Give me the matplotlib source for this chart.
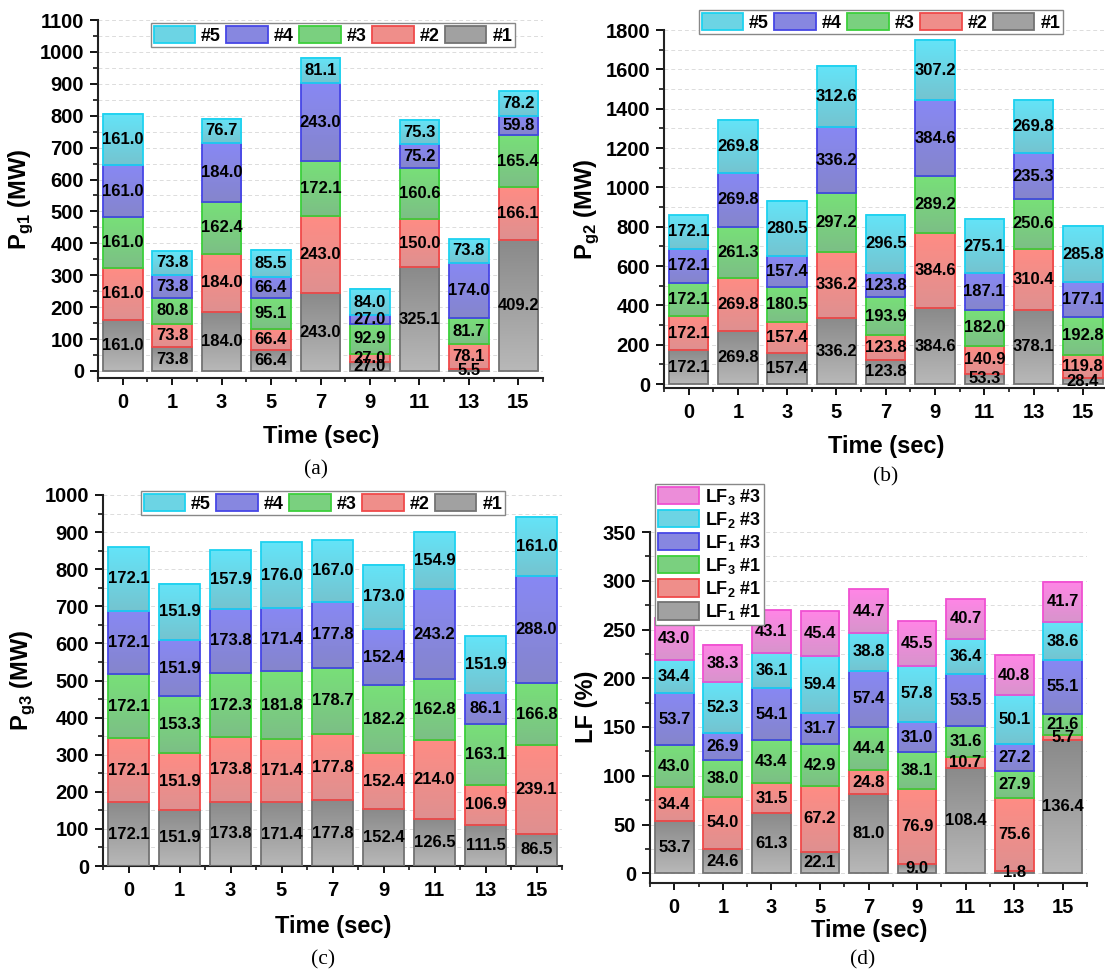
import numpy as np
import matplotlib
matplotlib.use('Agg')
import matplotlib.pyplot as plt
from matplotlib.patches import Patch
from matplotlib.colors import to_rgb

plt.rcParams['font.family'] = ['Liberation Sans', 'DejaVu Sans']
plt.rcParams['font.weight'] = 'bold'
plt.rcParams['mathtext.fontset'] = 'custom'
plt.rcParams['mathtext.rm'] = 'Liberation Sans'
plt.rcParams['mathtext.bf'] = 'Liberation Sans:bold'

# ---------------- data ----------------
times = ['0', '1', '3', '5', '7', '9', '11', '13', '15']

# Panel (a) Pg1 (MW), units #1..#5
pg1_u1 = [161.0, 73.8, 184.0, 66.4, 243.0, 27.0, 325.1, 5.5, 409.2]
pg1_u2 = [161.0, 73.8, 184.0, 66.4, 243.0, 27.0, 150.0, 78.1, 166.1]
pg1_u3 = [161.0, 80.8, 162.4, 95.1, 172.1, 92.9, 160.6, 81.7, 165.4]
pg1_u4 = [161.0, 73.8, 184.0, 66.4, 243.0, 27.0, 75.2, 174.0, 59.8]
pg1_u5 = [161.0, 73.8, 76.7, 85.5, 81.1, 84.0, 75.3, 73.8, 78.2]

# Panel (b) Pg2 (MW)
pg2_u1 = [172.1, 269.8, 157.4, 336.2, 123.8, 384.6, 53.3, 378.1, 28.4]
pg2_u2 = [172.1, 269.8, 157.4, 336.2, 123.8, 384.6, 140.9, 310.4, 119.8]
pg2_u3 = [172.1, 261.3, 180.5, 297.2, 193.9, 289.2, 182.0, 250.6, 192.8]
pg2_u4 = [172.1, 269.8, 157.4, 336.2, 123.8, 384.6, 187.1, 235.3, 177.1]
pg2_u5 = [172.1, 269.8, 280.5, 312.6, 296.5, 307.2, 275.1, 269.8, 285.8]

# Panel (c) Pg3 (MW)
pg3_u1 = [172.1, 151.9, 173.8, 171.4, 177.8, 152.4, 126.5, 111.5, 86.5]
pg3_u2 = [172.1, 151.9, 173.8, 171.4, 177.8, 152.4, 214.0, 106.9, 239.1]
pg3_u3 = [172.1, 153.3, 172.3, 181.8, 178.7, 182.2, 162.8, 163.1, 166.8]
pg3_u4 = [172.1, 151.9, 173.8, 171.4, 177.8, 152.4, 243.2, 86.1, 288.0]
pg3_u5 = [172.1, 151.9, 157.9, 176.0, 167.0, 173.0, 154.9, 151.9, 161.0]

# Panel (d) LF (%)
lf1_1 = [53.7, 24.6, 61.3, 22.1, 81.0, 9.0, 108.4, 1.8, 136.4]
lf2_1 = [34.4, 54.0, 31.5, 67.2, 24.8, 76.9, 10.7, 75.6, 5.7]
lf3_1 = [43.0, 38.0, 43.4, 42.9, 44.4, 38.1, 31.6, 27.9, 21.6]
lf1_3 = [53.7, 26.9, 54.1, 31.7, 57.4, 31.0, 53.5, 27.2, 55.1]
lf2_3 = [34.4, 52.3, 36.1, 59.4, 38.8, 57.8, 36.4, 50.1, 38.6]
lf3_3 = [43.0, 38.3, 43.1, 45.4, 44.7, 45.5, 40.7, 40.8, 41.7]

unit_names = ['#1', '#2', '#3', '#4', '#5']
lf_names = ['LF$_\\mathbf{1}$ #1', 'LF$_\\mathbf{2}$ #1', 'LF$_\\mathbf{3}$ #1',
            'LF$_\\mathbf{1}$ #3', 'LF$_\\mathbf{2}$ #3', 'LF$_\\mathbf{3}$ #3']

# ---------------- styles ----------------
tops = ['#8a8a8a', '#ff8c84', '#78e078', '#8888f4', '#64e4f8', '#ff86e6']
bots = ['#b8b8b8', '#df9090', '#7cbf86', '#8585cc', '#74c4d0', '#d894cc']
edges = ['#737373', '#f04a4a', '#3ccf3c', '#4646e6', '#1ed2f0', '#f050d2']

W, H = 1105, 975
fig = plt.figure(figsize=(W / 100, H / 100), dpi=100)


def ax_px(left, top, right, bottom):
    return fig.add_axes([left / W, 1 - bottom / H, (right - left) / W, (bottom - top) / H])


def grad(top, bot, n=64):
    t = np.linspace(0, 1, n)[:, None]
    c = (1 - t) * np.array(to_rgb(top)) + t * np.array(to_rgb(bot))
    return c[:, None, :]


def mid(a, b):
    return tuple((np.array(to_rgb(a)) + np.array(to_rgb(b))) / 2)


def panel(ax, series, ylim, major, minor):
    x = np.arange(len(times))
    bottom = np.zeros(len(times))
    for i, vals in enumerate(series):
        vals = np.array(vals, dtype=float)
        bars = ax.bar(x, vals, width=0.8, bottom=bottom, facecolor='none',
                      edgecolor=edges[i], linewidth=1.3, zorder=3)
        img = grad(tops[i], bots[i])
        for b in bars:
            x0, y0, w, h = b.get_x(), b.get_y(), b.get_width(), b.get_height()
            ax.imshow(img, extent=(x0, x0 + w, y0, y0 + h), origin='upper',
                      aspect='auto', interpolation='bilinear', zorder=2)
        for xi, b0, v in zip(x, bottom, vals):
            ax.text(xi, b0 + v / 2, f'{v:.1f}', ha='center', va='center',
                    fontsize=12, fontweight='bold', color='black', zorder=4)
        bottom = bottom + vals
    ax.set_xlim(-0.5, len(times) - 0.5)
    ax.set_ylim(*ylim)
    ax.set_xticks(x)
    ax.set_xticklabels(times)
    ax.set_xticks(np.arange(-0.5, len(times), 1), minor=True)
    ax.set_yticks(np.arange(0, ylim[1] + 1e-6, major))
    ax.set_yticks(np.arange(0, ylim[1] + 1e-6, minor), minor=True)
    for s in ['top', 'right']:
        ax.spines[s].set_visible(False)
    for s in ['left', 'bottom']:
        ax.spines[s].set_linewidth(1.5)
        ax.spines[s].set_color('#222222')
    ax.tick_params(axis='x', which='major', length=5, width=1.3, direction='out',
                   labelsize=14.5, pad=6)
    ax.tick_params(axis='x', which='minor', length=3, width=1.1, direction='out')
    ax.tick_params(axis='y', which='major', length=6, width=1.3, direction='out',
                   labelsize=14.5, pad=4)
    ax.tick_params(axis='y', which='minor', length=3.5, width=1.1, direction='out')
    for lab in ax.get_xticklabels() + ax.get_yticklabels():
        lab.set_fontweight('bold')
    ax.yaxis.grid(True, which='both', linestyle=(0, (4, 3)), color='#dcdcdc', linewidth=0.7)
    ax.set_axisbelow(True)


def legend_units(ax, x_px, y_px, n=5, names=unit_names):
    handles = [Patch(facecolor=mid(tops[i], bots[i]), edgecolor=edges[i], linewidth=1.3,
                     label=names[i]) for i in range(n - 1, -1, -1)]
    leg = ax.legend(handles=handles, ncol=n, loc='upper left',
                    bbox_to_anchor=(x_px / W, 1 - y_px / H), bbox_transform=fig.transFigure,
                    prop={'weight': 'bold', 'size': 13}, frameon=True, fancybox=False,
                    edgecolor='#888888', framealpha=1, borderpad=0.15,
                    handlelength=2.3, handleheight=1.1, handletextpad=0.33,
                    columnspacing=0.3, borderaxespad=0)
    leg.get_frame().set_linewidth(1.0)
    leg.set_zorder(10)
    return leg


# ---------------- panel (a) ----------------
axa = ax_px(98, 20, 543, 378)
panel(axa, [pg1_u1, pg1_u2, pg1_u3, pg1_u4, pg1_u5], (-22, 1100), 100, 50)
legend_units(axa, 151, 23)

# ---------------- panel (b) ----------------
axb = ax_px(664, 30, 1107.5, 388)
panel(axb, [pg2_u1, pg2_u2, pg2_u3, pg2_u4, pg2_u5], (-20, 1800), 200, 100)
legend_units(axb, 699, 10)

# ---------------- panel (c) ----------------
axc = ax_px(103, 495, 562, 866)
panel(axc, [pg3_u1, pg3_u2, pg3_u3, pg3_u4, pg3_u5], (0, 1000), 100, 50)
legend_units(axc, 141, 491)

# ---------------- panel (d) ----------------
axd = ax_px(650, 532, 1087, 883)
panel(axd, [lf1_1, lf2_1, lf3_1, lf1_3, lf2_3, lf3_3], (-10, 350), 50, 25)
handles = [Patch(facecolor=mid(tops[i], bots[i]), edgecolor=edges[i], linewidth=1.3,
                 label=lf_names[i]) for i in range(5, -1, -1)]
legd = axd.legend(handles=handles, ncol=1, loc='upper left',
                  bbox_to_anchor=(655 / W, 1 - 484 / H), bbox_transform=fig.transFigure,
                  prop={'weight': 'bold', 'size': 13}, frameon=True, fancybox=False,
                  edgecolor='#888888', framealpha=1, borderpad=0.15,
                  handlelength=2.3, handleheight=1.1, handletextpad=0.33,
                  labelspacing=0.17, borderaxespad=0)
legd.get_frame().set_linewidth(1.0)
legd.set_zorder(10)

# ---------------- axis labels & panel tags ----------------
lab_kw = dict(fontsize=17, fontweight='bold', ha='center', va='center')
fig.text(21 / W, 1 - 199 / H, 'P$_{\\mathrm{g1}}$ (MW)', rotation=90, **lab_kw)
fig.text(321 / W, 1 - 437 / H, 'Time (sec)', **lab_kw)
fig.text(587 / W, 1 - 209 / H, 'P$_{\\mathrm{g2}}$ (MW)', rotation=90, **lab_kw)
fig.text(886 / W, 1 - 447 / H, 'Time (sec)', **lab_kw)
fig.text(23 / W, 1 - 680 / H, 'P$_{\\mathrm{g3}}$ (MW)', rotation=90, **lab_kw)
fig.text(333 / W, 1 - 927 / H, 'Time (sec)', **lab_kw)
fig.text(587 / W, 1 - 707 / H, 'LF (%)', rotation=90, **lab_kw)
fig.text(869 / W, 1 - 930 / H, 'Time (sec)', **lab_kw)

tag_kw = dict(fontsize=15.5, fontweight='normal', ha='center', va='center',
              family=['Liberation Serif', 'DejaVu Serif'])
fig.text(316 / W, 1 - 470 / H, '(a)', **tag_kw)
fig.text(886 / W, 1 - 477 / H, '(b)', **tag_kw)
fig.text(323 / W, 1 - 960 / H, '(c)', **tag_kw)
fig.text(863 / W, 1 - 960 / H, '(d)', **tag_kw)

fig.savefig('out.png', dpi=100, facecolor='white')
